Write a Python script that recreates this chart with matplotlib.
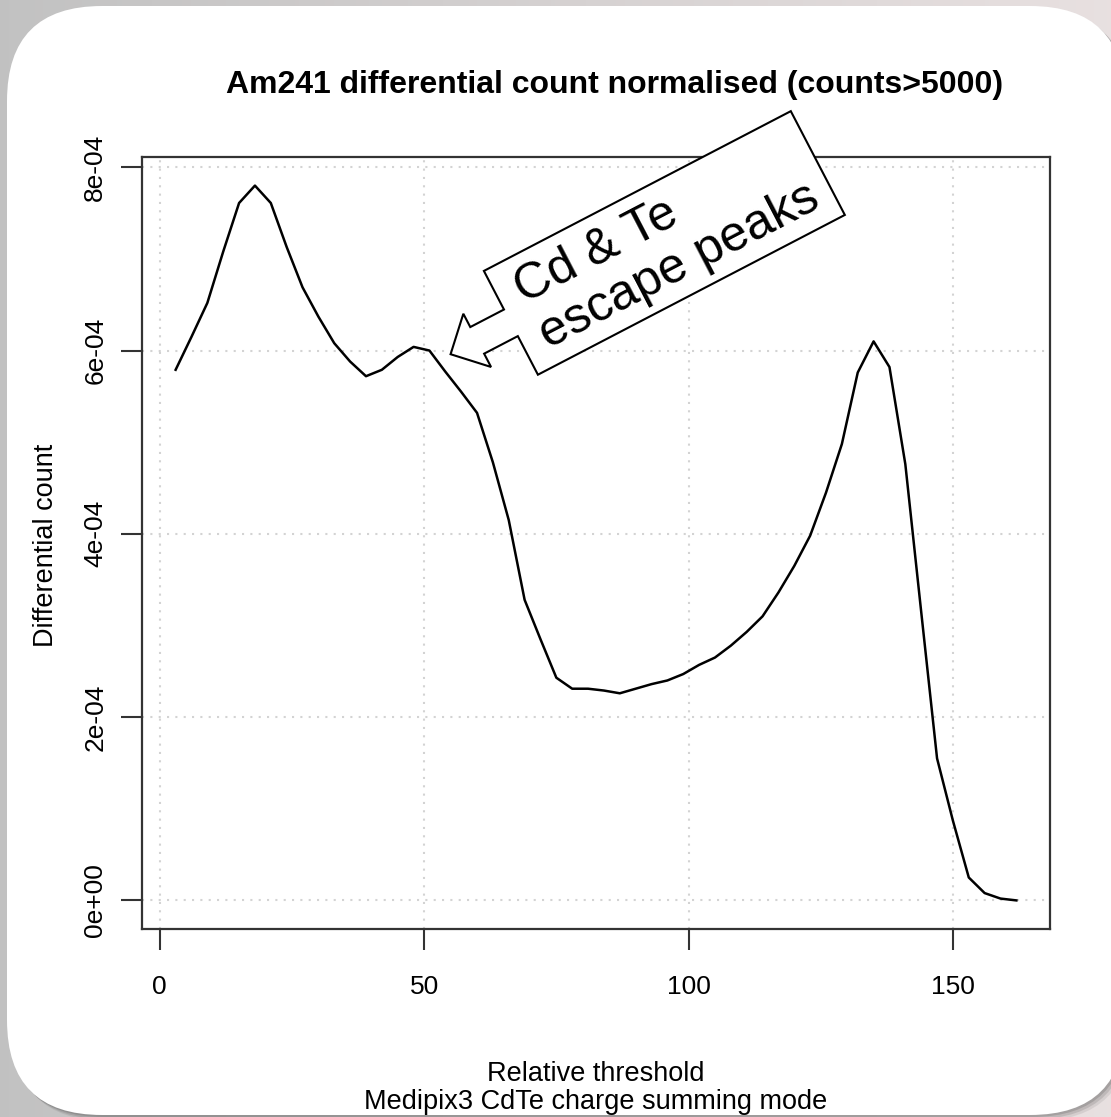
import numpy as np
import matplotlib
matplotlib.use("Agg")
import matplotlib.pyplot as plt
from matplotlib.patches import FancyBboxPatch, Polygon
from matplotlib.ticker import FuncFormatter
from matplotlib.transforms import Affine2D, ScaledTranslation

plt.rcParams["font.family"] = ["Liberation Sans", "DejaVu Sans"]

# ---------------- data ----------------
threshold = list(range(3, 163, 3))
diff_count_e4 = [
    5.79, 6.15, 6.52, 7.08, 7.61, 7.80, 7.61, 7.13, 6.69, 6.37,
    6.08, 5.88, 5.72, 5.79, 5.93, 6.04, 6.00, 5.77, 5.55, 5.32,
    4.78, 4.15, 3.28, 2.85, 2.43, 2.31, 2.31, 2.29, 2.26, 2.31,
    2.36, 2.40, 2.47, 2.57, 2.65, 2.78, 2.93, 3.10, 3.36, 3.65,
    3.98, 4.45, 4.98, 5.76, 6.10, 5.82, 4.76, 3.15, 1.55, 0.87,
    0.25, 0.08, 0.02, 0.00,
]
x_ticks = [0, 50, 100, 150]
y_ticks_e4 = [0, 2, 4, 6, 8]

title = "Am241 differential count normalised (counts>5000)"
x_label = "Relative threshold\nMedipix3 CdTe charge summing mode"
y_label = "Differential count"
note_text = "Cd & Te\nescape peaks"
note_target = (55, 5.96e-4)

x = np.array(threshold, dtype=float)
y = np.array(diff_count_e4) * 1e-4

W, H = 1111, 1117
fig = plt.figure(figsize=(W / 100, H / 100), dpi=100)

# ---------------- slide-like background ----------------
bg = fig.add_axes([0, 0, 1, 1])
c_left = np.array([0.76, 0.76, 0.76])
c_right = np.array([0.91, 0.88, 0.88])
t = np.linspace(0, 1, 256)[None, :, None]
grad = c_left + (c_right - c_left) * t
grad = np.repeat(grad, 2, axis=0)
bg.imshow(grad, aspect="auto", extent=[0, 1, 0, 1])
bg.set_xlim(0, 1)
bg.set_ylim(0, 1)
bg.axis("off")

for off, a in [(6, 0.10), (4, 0.15), (2, 0.2)]:
    sh = FancyBboxPatch((0.07 + off / 100, 0.02 - off / 100), 11.18, 11.09,
                        boxstyle="round,pad=0,rounding_size=0.95",
                        transform=fig.dpi_scale_trans, fc="#404040", ec="none", alpha=a)
    bg.add_patch(sh)
panel = FancyBboxPatch((0.07, 0.02), 11.18, 11.09,
                       boxstyle="round,pad=0,rounding_size=0.95",
                       transform=fig.dpi_scale_trans, fc="white", ec="none")
bg.add_patch(panel)

# ---------------- main plot ----------------
L, R, T, B = 142, 1050, 157, 929
ax = fig.add_axes([L / W, 1 - B / H, (R - L) / W, (B - T) / H])
ax.set_facecolor("white")

ax.plot(x, y, color="black", lw=1.8, zorder=3)

# R style 4% axis expansion
xr = x.max() - x.min()
yr = y.max() - y.min()
ax.set_xlim(x.min() - 0.04 * xr, x.max() + 0.04 * xr)
ax.set_ylim(y.min() - 0.04 * yr, y.max() + 0.04 * yr)

ax.set_xticks(x_ticks)
ax.set_yticks([v * 1e-4 for v in y_ticks_e4])
ax.yaxis.set_major_formatter(FuncFormatter(lambda v, p: f"{v:.0e}"))
ax.grid(True, color="#d3d3d3", linestyle=(0, (1, 3)), lw=1.5)
ax.set_axisbelow(True)

for s in ax.spines.values():
    s.set_linewidth(1.6)
    s.set_color("#333333")
ax.tick_params(length=15, width=1.5, color="#333333", labelsize=19)
ax.tick_params(axis="x", pad=18)
ax.tick_params(axis="y", pad=10, labelrotation=90)
for lab in ax.get_yticklabels():
    lab.set_va("center")

ax.set_xlabel(x_label, fontsize=19.5, linespacing=1.08, va="center")
ax.xaxis.set_label_coords(0.5, -0.206)
ax.set_ylabel(y_label, fontsize=19.5, va="center")
ax.yaxis.set_label_coords(-0.106, 0.497)

fig.text(615 / W, 1 - 85 / H, title, ha="center", va="center",
         fontsize=23, fontweight="bold")

# ---------------- block arrow callout ----------------
ang = 27.5
arrow_a = [0, 30, 30, 68, 68, 414, 414, 68, 68, 30, 30]
arrow_b = [0, 30, 15, 15, 58.5, 58.5, -58.5, -58.5, -15, -15, -30]
anchor = ScaledTranslation(note_target[0], note_target[1], ax.transData)
arrow_tr = Affine2D().rotate_deg(ang) + anchor
callout = Polygon(np.column_stack([arrow_a, arrow_b]), closed=True,
                  fc="white", ec="black", lw=1.5, transform=arrow_tr,
                  clip_on=False, zorder=5)
ax.add_patch(callout)
ax.text(243, -2, note_text, transform=arrow_tr, rotation=ang,
        rotation_mode="anchor", ha="center", va="center",
        multialignment="left", fontsize=36, linespacing=1.15, zorder=6)

fig.savefig("out.png", dpi=100)
